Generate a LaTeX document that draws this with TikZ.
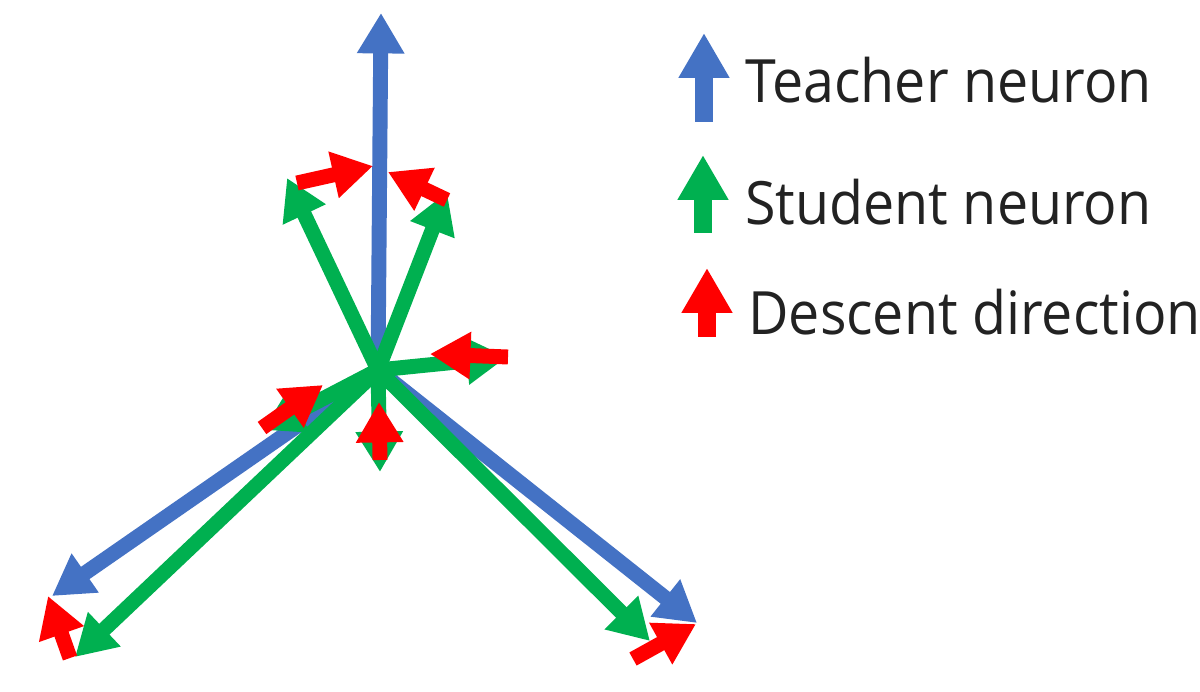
\documentclass[tikz,border=0pt]{standalone}
\usepackage{fontspec}
\setmainfont{Open Sans}
\usetikzlibrary{arrows.meta}
\definecolor{tblue}{HTML}{4472C4}
\definecolor{sgreen}{HTML}{00B050}
\definecolor{dred}{HTML}{FF0000}
\definecolor{txt}{HTML}{222222}
\tikzset{
  vec/.style={line width=8.5pt, line cap=butt, -{Triangle[length=23pt,width=25.5pt]}},
  teacher/.style={vec, draw=tblue},
  student/.style={vec, draw=sgreen},
  descent/.style={vec, draw=dred},
  lvec/.style={line width=10.2pt, line cap=butt, -{Triangle[length=25.5pt,width=27.2pt]}},
  lab/.style={font=\fontsize{34}{40}\selectfont, inner sep=0pt, anchor=base west, text=txt}
}
\newcommand{\legtext}[1]{\scalebox{0.93}[1]{#1}}
\begin{document}
\begin{tikzpicture}[x=0.02cm, y=-0.02cm]
\useasboundingbox (0,0) rectangle (1200,692);
% centre and tips
\coordinate (O) at (378,370);
\coordinate (T1) at (381,13);
\coordinate (T2) at (52,596);
\coordinate (T3) at (697,623);
\coordinate (S1) at (287,178);
\coordinate (S2) at (447,192);
\coordinate (S3) at (75,657);
\coordinate (S4) at (650,641);
\coordinate (S5) at (507,357);
\coordinate (S6) at (380,472);
\coordinate (S7) at (263,430);
% descent arrow ends
\coordinate (R1a) at (297,183); \coordinate (R1b) at (373,166);
\coordinate (R2a) at (447,200); \coordinate (R2b) at (388,172);
\coordinate (R3a) at (508,357); \coordinate (R3b) at (430,354);
\coordinate (R4a) at (380,460); \coordinate (R4b) at (379,402);
\coordinate (R5a) at (262,428); \coordinate (R5b) at (323,385);
\coordinate (R6a) at (70,658);  \coordinate (R6b) at (48,596);
\coordinate (R7a) at (633,659); \coordinate (R7b) at (696,624);
% teacher neurons
\draw[teacher] (O) -- (T1);
\draw[teacher] (O) -- (T2);
\draw[teacher] (O) -- (T3);
% student neurons
\draw[student] (O) -- (S1);
\draw[student] (O) -- (S2);
\draw[student] (O) -- (S3);
\draw[student] (O) -- (S4);
\draw[student] (O) -- (S5);
\draw[student] (O) -- (S6);
\draw[student] (O) -- (S7);
% descent directions
\draw[descent] (R1a) -- (R1b);
\draw[descent] (R2a) -- (R2b);
\draw[descent] (R3a) -- (R3b);
\draw[descent] (R4a) -- (R4b);
\draw[descent] (R5a) -- (R5b);
\draw[descent] (R6a) -- (R6b);
\draw[descent] (R7a) -- (R7b);
% legend
\coordinate (LB0) at (704,122); \coordinate (LB1) at (704,33);
\coordinate (LG0) at (703,233); \coordinate (LG1) at (703,155);
\coordinate (LR0) at (707,337); \coordinate (LR1) at (707,268);
\draw[lvec, draw=tblue] (LB0) -- (LB1);
\draw[lvec, draw=sgreen] (LG0) -- (LG1);
\draw[lvec, draw=dred] (LR0) -- (LR1);
\node[lab] (lt) at (745,103) {\legtext{Teacher neuron}};
\node[lab] (ls) at (745,225) {\legtext{Student neuron}};
\node[lab] (ld) at (748,335) {\legtext{Descent direction}};
\end{tikzpicture}
\end{document}
